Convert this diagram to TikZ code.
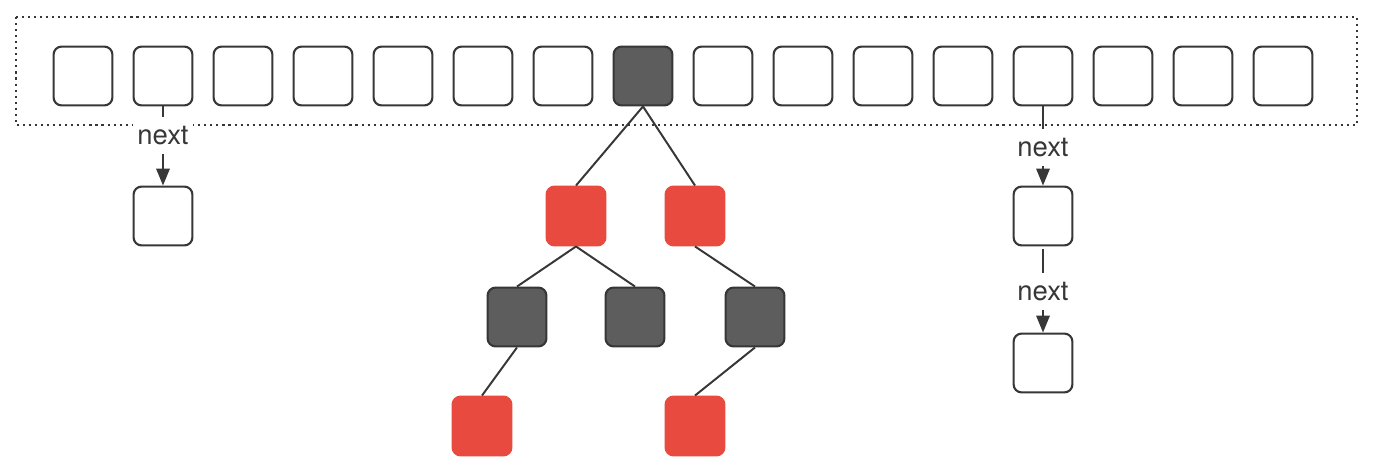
\documentclass[tikz,border=0pt]{standalone}
\usepackage{fontspec}
\setmainfont{TeX Gyre Heros}
\usetikzlibrary{arrows.meta}
\definecolor{edgegray}{RGB}{55,55,55}
\definecolor{cellgray}{RGB}{93,93,93}
\definecolor{nodered}{RGB}{232,74,64}
\tikzset{
  cell/.style  ={rectangle, rounded corners=0.2cm, draw=edgegray, line width=1.5pt,
                 fill=white, minimum size=1.47cm, inner sep=0pt},
  dcell/.style ={cell, fill=cellgray},
  rcell/.style ={cell, draw=nodered, fill=nodered},
  link/.style  ={draw=edgegray, line width=1.4pt},
  nextarr/.style={link, -{Triangle[length=12pt,width=9.5pt]}},
  nextlbl/.style={fill=white, text=edgegray, font=\fontsize{19.5}{21}\selectfont,
                 minimum width=1.5cm, minimum height=0.92cm, inner sep=0pt}
}
\begin{document}
\begin{tikzpicture}[x=0.025cm, y=-0.025cm]
\useasboundingbox (0,0) rectangle (1380,474);
\draw[edgegray, line width=1.5pt, dash pattern=on 1.5pt off 2.8pt] (16,17) rectangle (1357,125);
% bucket array
\foreach \i in {0,...,15}{
  \def\st{cell}\ifnum\i=7 \def\st{dcell}\fi
  \node[\st] (c\i) at ({83+80*\i},76) {};
}
% linked lists
\node[cell] (l1) at (163,216) {};
\node[cell] (r1) at (1043,216) {};
\node[cell] (r2) at (1043,363) {};
\draw[nextarr] (c1) -- node[nextlbl, pos=0.37]{next} (l1);
\draw[nextarr] (c12) -- node[nextlbl, pos=0.52]{next} (r1);
\draw[nextarr, shorten <=2pt] (r1) -- node[nextlbl, pos=0.52]{next} (r2);
% red-black tree
\node[rcell] (t1) at (576,216) {};
\node[rcell] (t2) at (695,216) {};
\node[dcell] (t3) at (517,317) {};
\node[dcell] (t4) at (635,317) {};
\node[dcell] (t5) at (755,317) {};
\node[rcell] (t6) at (482,426) {};
\node[rcell] (t7) at (695,426) {};
\draw[link] (c7.south) -- (t1.north);
\draw[link] (c7.south) -- (t2.north);
\draw[link] (t1.south) -- (t3.north);
\draw[link] (t1.south) -- (t4.north);
\draw[link] (t2.south) -- (t5.north);
\draw[link] (t3.south) -- (t6.north);
\draw[link] (t5.south) -- (t7.north);
\end{tikzpicture}
\end{document}
